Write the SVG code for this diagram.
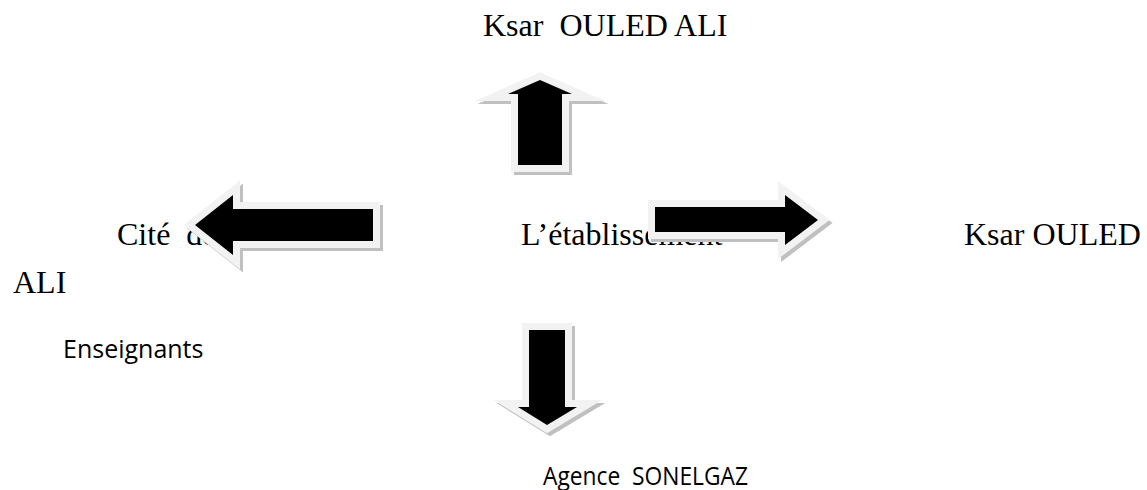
<svg xmlns="http://www.w3.org/2000/svg" width="1147" height="490" viewBox="0 0 1147 490">
<style>
.serif{font-family:"Liberation Serif","Times New Roman",serif;font-size:32px;fill:#000}
.sans{font-family:"Open Sans","Liberation Sans",sans-serif;font-size:25px;fill:#000}
.shadow{fill:#c0c0c0;stroke:#c0c0c0;stroke-width:14;stroke-linejoin:miter;stroke-miterlimit:10}
.arrow{fill:#000;stroke:#f2f2f2;stroke-width:14;stroke-linejoin:miter;stroke-miterlimit:10;paint-order:stroke}
</style>
<defs>
<path id="aUp" d="M540,80 L572,94 L562,94 L562,165 L518,165 L518,94 L508,94 Z"/>
<path id="aLeft" d="M195,225 L233,195 L233,209 L373,209 L373,241 L233,241 L233,255 Z"/>
<path id="aRight" d="M818,220 L785,245 L785,232 L655,232 L655,207 L785,207 L785,195 Z"/>
<path id="aDown" d="M547,425 L518,407 L529,407 L529,330 L565,330 L565,407 L577,407 Z"/>
</defs>
<rect width="1147" height="490" fill="#fff"/>
<g id="node-top"><text class="serif" x="483" y="36" xml:space="preserve">Ksar  OULED ALI</text></g>
<g id="node-left"><text class="serif" x="117" y="245" xml:space="preserve">Cité  de</text></g>
<g id="node-center"><text class="serif" x="521" y="245">L’établissement</text></g>
<g id="node-right"><text class="serif" x="964" y="245">Ksar OULED</text></g>
<g id="node-ali"><text class="serif" x="13" y="293">ALI</text></g>
<g id="node-enseignants"><text class="sans" x="63" y="358">Enseignants</text></g>
<g id="node-bottom"><text class="sans" x="543" y="485" xml:space="preserve" textLength="205" lengthAdjust="spacingAndGlyphs">Agence  SONELGAZ</text></g>
<g id="connectors">
<use href="#aUp" class="shadow" transform="translate(3,3)"/>
<use href="#aUp" class="arrow"/>
<use href="#aLeft" class="shadow" transform="translate(3,3)"/>
<use href="#aLeft" class="arrow"/>
<use href="#aRight" class="shadow" transform="translate(3,3)"/>
<use href="#aRight" class="arrow"/>
<use href="#aDown" class="shadow" transform="translate(3,3)"/>
<use href="#aDown" class="arrow"/>
</g>
</svg>
